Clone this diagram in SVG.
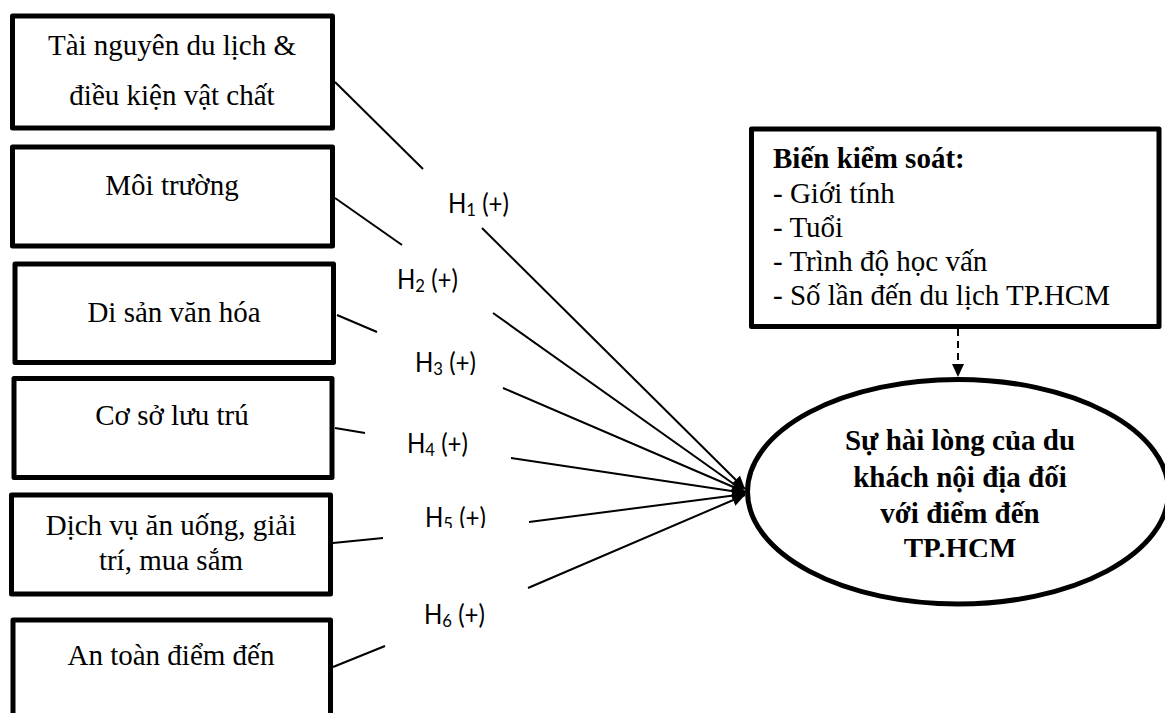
<svg xmlns="http://www.w3.org/2000/svg" width="1165" height="713" viewBox="0 0 1165 713">
<style>
.box{fill:#fff;stroke:#000;stroke-width:5;stroke-linejoin:round}
.t{font-family:"Liberation Serif","Times New Roman",serif;font-size:29px;fill:#000}
.c{text-anchor:middle}
.b{font-weight:bold}
.lab{font-family:Lato,"Noto Sans",sans-serif;font-size:26px;fill:#000}
.sub{font-size:18px}
.ln{stroke:#000;stroke-width:2;fill:none}
</style>
<defs>
<marker id="ah" markerUnits="userSpaceOnUse" markerWidth="14" markerHeight="12" refX="13" refY="6" orient="auto">
<path d="M0,0 L13,6 L0,12 Z" fill="#000"/>
</marker>
<clipPath id="clipH3"><rect x="380" y="330" width="140" height="45"/></clipPath>
<clipPath id="clipH5"><rect x="380" y="490" width="140" height="38"/></clipPath>
<clipPath id="clipEl"><rect x="740" y="370" width="430" height="187"/></clipPath>
</defs>
<rect width="1165" height="713" fill="#fff"/>

<g id="connectors">
<line class="ln" x1="335" y1="82" x2="423" y2="169"/>
<line class="ln" x1="482" y1="228" x2="745" y2="489" marker-end="url(#ah)"/>
<line class="ln" x1="335" y1="198" x2="402" y2="245"/>
<line class="ln" x1="493" y1="313" x2="745" y2="492" marker-end="url(#ah)"/>
<line class="ln" x1="337" y1="315" x2="377" y2="332"/>
<line class="ln" x1="503" y1="388" x2="745" y2="492" marker-end="url(#ah)"/>
<line class="ln" x1="335" y1="428" x2="365" y2="433"/>
<line class="ln" x1="511" y1="458" x2="745" y2="493" marker-end="url(#ah)"/>
<line class="ln" x1="333" y1="543" x2="383" y2="538"/>
<line class="ln" x1="529" y1="522" x2="745" y2="494" marker-end="url(#ah)"/>
<line class="ln" x1="333" y1="667" x2="385" y2="646"/>
<line class="ln" x1="528" y1="588" x2="745" y2="495" marker-end="url(#ah)"/>
<line class="ln" x1="958" y1="329" x2="958" y2="377" stroke-dasharray="7,5" marker-end="url(#ah)"/>
</g>

<g id="labels">
<text class="lab" x="448" y="213" textLength="61" lengthAdjust="spacingAndGlyphs">H<tspan class="sub" dy="3">1</tspan><tspan dy="-3"> (+)</tspan></text>
<text class="lab" x="397" y="289" textLength="61" lengthAdjust="spacingAndGlyphs">H<tspan class="sub" dy="3">2</tspan><tspan dy="-3"> (+)</tspan></text>
<text class="lab" x="415" y="372" textLength="61" lengthAdjust="spacingAndGlyphs" clip-path="url(#clipH3)">H<tspan class="sub" dy="3">3</tspan><tspan dy="-3"> (+)</tspan></text>
<text class="lab" x="407" y="453" textLength="61" lengthAdjust="spacingAndGlyphs">H<tspan class="sub" dy="3">4</tspan><tspan dy="-3"> (+)</tspan></text>
<text class="lab" x="425" y="527" textLength="61" lengthAdjust="spacingAndGlyphs" clip-path="url(#clipH5)">H<tspan class="sub" dy="3">5</tspan><tspan dy="-3"> (+)</tspan></text>
<text class="lab" x="424" y="624" textLength="61" lengthAdjust="spacingAndGlyphs">H<tspan class="sub" dy="3">6</tspan><tspan dy="-3"> (+)</tspan></text>
</g>

<g id="n1">
<rect class="box" x="12.5" y="16" width="320" height="112"/>
<text class="t c" x="172" y="55">Tài nguyên du lịch &amp;</text>
<text class="t c" x="172" y="105">điều kiện vật chất</text>
</g>
<g id="n2">
<rect class="box" x="12.5" y="147" width="320" height="99"/>
<text class="t c" x="172" y="195">Môi trường</text>
</g>
<g id="n3">
<rect class="box" x="15" y="264" width="318.5" height="98.5"/>
<text class="t c" x="174" y="322">Di sản văn hóa</text>
</g>
<g id="n4">
<rect class="box" x="14" y="378.5" width="318" height="99"/>
<text class="t c" x="172" y="425">Cơ sở lưu trú</text>
</g>
<g id="n5">
<rect class="box" x="11.5" y="495" width="319" height="99"/>
<text class="t c" x="171" y="535">Dịch vụ ăn uống, giải</text>
<text class="t c" x="171" y="570">trí, mua sắm</text>
</g>
<g id="n6">
<rect class="box" x="13" y="620" width="317.5" height="110"/>
<text class="t c" x="171" y="665">An toàn điểm đến</text>
</g>

<g id="control">
<rect class="box" x="751.5" y="129" width="407.5" height="197.5"/>
<text class="t b" x="773" y="168">Biến kiểm soát:</text>
<text class="t" x="773" y="203">- Giới tính</text>
<text class="t" x="773" y="237">- Tuổi</text>
<text class="t" x="773" y="271">- Trình độ học vấn</text>
<text class="t" x="773" y="305">- Số lần đến du lịch TP.HCM</text>
</g>

<g id="outcome">
<ellipse cx="958" cy="491.75" rx="210.5" ry="112.25" fill="#fff" stroke="#000" stroke-width="5"/>
<g clip-path="url(#clipEl)">
<text class="t b c" x="960" y="450">Sự hài lòng của du</text>
<text class="t b c" x="960" y="487">khách nội địa đối</text>
<text class="t b c" x="960" y="523">với điểm đến</text>
<text class="t b c" x="960" y="558">TP.HCM</text>
</g>
</g>
</svg>
